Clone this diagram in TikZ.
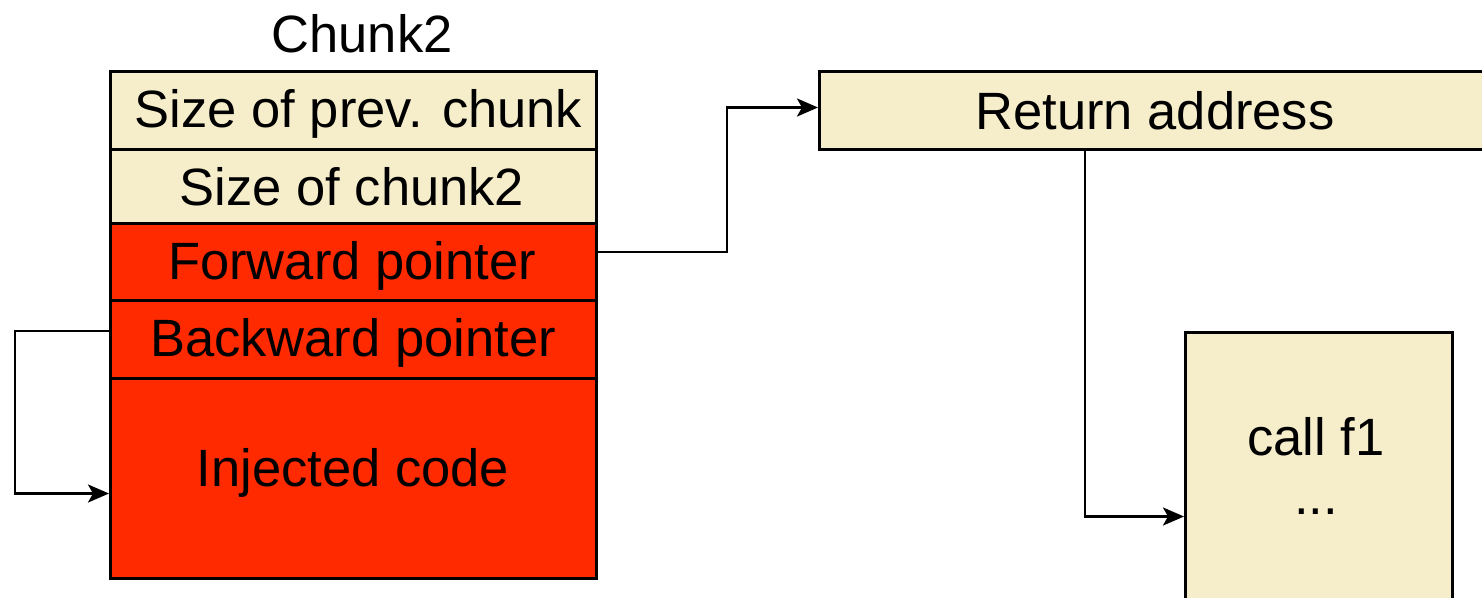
\documentclass[tikz,border=0pt]{standalone}
\usepackage{fontspec}
\setmainfont{Liberation Sans}
\usetikzlibrary{arrows.meta}
\definecolor{cream}{HTML}{F6EDCB}
\definecolor{hot}{HTML}{FF2A00}
\tikzset{
  cell/.style={draw=black, line width=3pt, rectangle, inner sep=0pt,
    anchor=north west, minimum width=486pt},
  lbl/.style={font=\fontsize{52.5}{60}\selectfont, inner sep=0pt, anchor=base},
  link/.style={draw=black, line width=2.8pt,
    -{Stealth[length=21pt,width=18pt,inset=5pt]}},
}
\begin{document}
\begin{tikzpicture}[x=1pt, y=-1pt]
  \clip (0,0) rectangle (1482,597);
  \fill[white] (0,0) rectangle (1482,597);

  % title of the chunk
  \node[lbl] (title) at (362,52) {Chunk2};

  % the chunk, one cell per field
  \node[cell, fill=cream, minimum height=78pt] (prev) at (109,70) {};
  \node[cell, fill=cream, minimum height=74pt] (size) at (109,148) {};
  \node[cell, fill=hot, minimum height=77pt] (fwd) at (109,222) {};
  \node[cell, fill=hot, minimum height=78pt] (bwd) at (109,299) {};
  \node[cell, fill=hot, minimum height=200pt] (inj) at (109,377) {};

  \node[lbl] (tprev) at (358.5,127) {Size of prev. chunk};
  \node[lbl] (tsize) at (352,205) {Size of chunk2};
  \node[lbl] (tfwd) at (352,279) {Forward pointer};
  \node[lbl] (tbwd) at (353,356) {Backward pointer};
  \node[lbl] (tinj) at (353,486) {Injected code};

  % return address slot
  \node[cell, fill=cream, minimum width=700pt, minimum height=78pt] (ret) at (818,70) {};
  \node[lbl] (tret) at (1155,129) {Return address};

  % target code
  \node[cell, fill=cream, minimum width=267pt, minimum height=280pt] (code) at (1184,331) {};
  \node[lbl] (tcall) at (1316,455) {call f1};
  \node[lbl] (tdots) at (1316,514) {...};

  % pointers
  \coordinate (fwdbend) at (727,252);
  \coordinate (bwdbend) at (15,331);
  \coordinate (retout) at (1085,148);
  \draw[link] (fwd.east |- fwdbend) -- (fwdbend) |- ([yshift=3pt]ret.west);
  \draw[link] (bwd.west |- bwdbend) -- (bwdbend) |- ([yshift=-15pt]inj.west);
  \draw[link] (retout) |- ([yshift=-44pt]code.west);
\end{tikzpicture}
\end{document}
